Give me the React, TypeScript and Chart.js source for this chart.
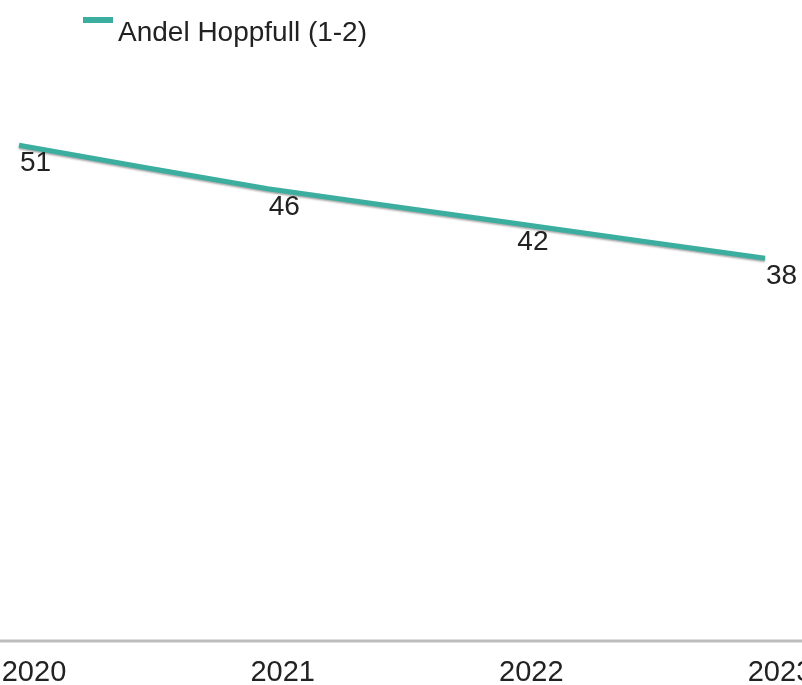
import React, { useEffect, useRef } from 'react';
import { Chart, registerables } from 'chart.js';

Chart.register(...registerables);

const categories: string[] = ['2020', '2021', '2022', '2023'];
const seriesLabel = 'Andel Hoppfull (1-2)';
const seriesValues: number[] = [51, 46, 42, 38];
const yMin = -6;
const yMax = 60;

const TEAL = '#3cae9f';
const TEXT = '#222222';
const AXIS = '#bdbdbd';
const FONT = '"Liberation Sans", Arial, Helvetica, sans-serif';

export default function App() {
  const ref = useRef<HTMLCanvasElement>(null);

  useEffect(() => {
    const canvas = ref.current;
    if (!canvas) return;

    const legendPlugin = {
      id: 'customLegend',
      afterDraw(chart: any) {
        const ctx = chart.ctx;
        const ds = chart.data.datasets[0];
        ctx.save();
        ctx.fillStyle = ds.borderColor;
        ctx.fillRect(83, 17, 30, 6);
        ctx.font = `28px ${FONT}`;
        ctx.fillStyle = TEXT;
        ctx.textAlign = 'left';
        ctx.textBaseline = 'alphabetic';
        ctx.fillText(ds.label, 118, 41);
        ctx.restore();
      },
    };

    const axisLinePlugin = {
      id: 'axisLine',
      beforeDatasetsDraw(chart: any) {
        const ctx = chart.ctx;
        const y = chart.scales.x.top;
        ctx.save();
        ctx.strokeStyle = AXIS;
        ctx.lineWidth = 3;
        ctx.beginPath();
        ctx.moveTo(0, y);
        ctx.lineTo(chart.width, y);
        ctx.stroke();
        ctx.restore();
      },
    };

    const shadowPlugin = {
      id: 'lineShadow',
      beforeDatasetDraw(chart: any) {
        const ctx = chart.ctx;
        ctx.save();
        ctx.shadowColor = 'rgba(0,0,0,0.35)';
        ctx.shadowBlur = 2;
        ctx.shadowOffsetY = 1.5;
      },
      afterDatasetDraw(chart: any) {
        chart.ctx.restore();
      },
    };

    const labelsPlugin = {
      id: 'valueLabels',
      afterDatasetsDraw(chart: any) {
        const ctx = chart.ctx;
        const meta = chart.getDatasetMeta(0);
        const values = chart.data.datasets[0].data;
        ctx.save();
        ctx.font = `28px ${FONT}`;
        ctx.fillStyle = TEXT;
        ctx.textAlign = 'left';
        ctx.textBaseline = 'alphabetic';
        meta.data.forEach((pt: any, i: number) => {
          ctx.fillText(String(values[i]), pt.x + 1, pt.y + 26);
        });
        ctx.restore();
      },
    };

    const chart = new Chart(canvas, {
      type: 'line',
      data: {
        labels: categories,
        datasets: [
          {
            label: seriesLabel,
            data: seriesValues,
            borderColor: TEAL,
            backgroundColor: TEAL,
            borderWidth: 5,
            pointRadius: 0,
            pointHoverRadius: 0,
            tension: 0.1,
            fill: false,
          },
        ],
      },
      options: {
        responsive: false,
        animation: false,
        layout: { padding: { left: 19, right: 37, top: 67, bottom: 0 } },
        plugins: {
          legend: { display: false },
          tooltip: { enabled: false },
        },
        scales: {
          x: {
            offset: false,
            grid: { display: false, drawTicks: false },
            border: { display: false },
            ticks: {
              font: { family: FONT, size: 29 },
              color: TEXT,
              labelOffset: 15,
              padding: 15,
              autoSkip: false,
              maxRotation: 0,
              minRotation: 0,
            },
            afterFit: (s: any) => {
              s.paddingLeft = 0;
              s.paddingRight = 0;
              s.height = 44;
            },
          },
          y: {
            display: false,
            min: yMin,
            max: yMax,
          },
        },
      } as any,
      plugins: [axisLinePlugin, shadowPlugin, labelsPlugin, legendPlugin],
    });

    return () => chart.destroy();
  }, []);

  return (
    <div style={{ position: 'fixed', left: 0, top: 0, width: 802, height: 685, background: '#fff' }}>
      <canvas ref={ref} width={802} height={685} style={{ width: 802, height: 685, display: 'block' }} />
    </div>
  );
}
